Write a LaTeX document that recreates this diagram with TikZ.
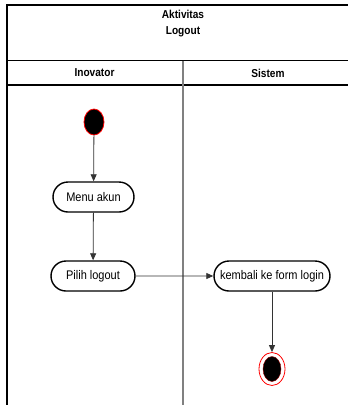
\documentclass[tikz,border=0pt]{standalone}
\usepackage{fontspec}
\setmainfont{Liberation Sans}[FakeStretch=0.88]
\usetikzlibrary{shapes.misc,shapes.geometric,arrows.meta}
\begin{document}
\begin{tikzpicture}[x=1pt,y=-1pt,
  frameline/.style={draw=black, line width=1.6pt},
  laneline/.style={draw=black!50, line width=2pt},
  head/.style={font=\fontsize{11.5}{16}\selectfont\bfseries, align=center},
  act/.style={rounded rectangle, draw=black, line width=1.4pt, fill=white,
    minimum height=30pt, inner xsep=3pt, font=\fontsize{12.5}{14}\selectfont},
  flow/.style={draw=black!80, line width=0.8pt, -{Triangle[length=7pt,width=6pt]}},
  startdot/.style={ellipse, fill=black, draw=red, line width=0.8pt,
    minimum width=20pt, minimum height=26pt, inner sep=0pt},
  endring/.style={ellipse, fill=white, draw=red, line width=0.8pt,
    minimum width=26pt, minimum height=33pt, inner sep=0pt},
  enddot/.style={ellipse, fill=black, draw=red!60!black, line width=0.4pt,
    minimum width=18pt, minimum height=25pt, inner sep=0pt}
]
\useasboundingbox (0,0) rectangle (348,405);

% pool frame and lane header rows
\draw[frameline] (7,405) -- (7,5) -- (348,5);
\draw[frameline] (7,60.5) -- (348,60.5);
\draw[frameline] (7,85) -- (348,85);
\draw[laneline] (183,60.5) -- (183,405);

\node[head] (title) at (183,24) {Aktivitas\\Logout};
\node[head] (laneA) at (94.5,73) {Inovator};
\node[head] (laneB) at (268,73) {Sistem};

% activities
\node[startdot] (start) at (94,122) {};
\node[act, minimum width=87pt] (menu) at (93.5,197) {Menu akun};
\node[act, minimum width=90pt] (pilih) at (93,276) {Pilih logout};
\node[act, minimum width=122pt] (kembali) at (272,276) {kembali ke form login};
\node[endring] (stop) at (272,369) {};
\node[enddot] (stopdot) at (stop.center) {};

% control flow
\draw[flow] (start) -- (menu);
\draw[flow] (menu) -- (pilih);
\draw[flow] (pilih) -- (kembali);
\draw[flow] (kembali.south) -- (stop.north);
\end{tikzpicture}
\end{document}
